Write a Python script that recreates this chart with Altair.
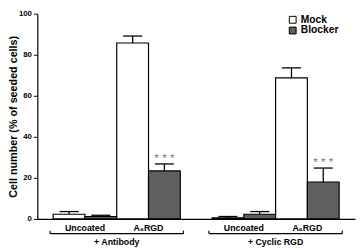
import altair as alt
import pandas as pd

groups = ["+ Antibody", "+ Cyclic RGD"]
coatings = ["Uncoated", "A\u2086RGD"]
treatments = ["Mock", "Blocker"]
means = [2.3, 1.2, 85.7, 23.4, 0.5, 2.3, 68.7, 18.0]
errors = [1.3, 0.6, 3.4, 3.4, 0.7, 1.3, 4.9, 6.8]
significant = [False, False, False, True, False, False, False, True]

FONT = "Liberation Sans"

rows = []
i = 0
for gi, g in enumerate(groups):
    for ci, c in enumerate(coatings):
        for ti, t in enumerate(treatments):
            pos = gi * 5 + ci * 2 + ti + 1
            rows.append(dict(group=g, coat=c, treat=t, pos=pos,
                             lo=pos - 0.5, hi=pos + 0.5,
                             cap_lo=pos - 0.3, cap_hi=pos + 0.3,
                             value=means[i], upper=means[i] + errors[i],
                             star="* * *" if significant[i] else ""))
            i += 1
df = pd.DataFrame(rows)

coat_df = df.groupby(["group", "coat"], as_index=False)["pos"].mean()
grp_df = df.groupby("group", as_index=False).agg(pos=("pos", "mean"),
                                                 pmin=("pos", "min"),
                                                 pmax=("pos", "max"))
grp_df["b_lo"] = grp_df["pmin"] - 0.6
grp_df["b_hi"] = grp_df["pmax"] + 0.6

xs = alt.Scale(domain=[0, 10], nice=False, zero=False)
ys = alt.Scale(domain=[0, 100], nice=False)

base = alt.Chart(df)

bars = base.mark_rect(stroke="black", strokeWidth=1.2).encode(
    x=alt.X("lo:Q", scale=xs,
            axis=alt.Axis(labels=False, ticks=False, title=None, grid=False,
                          domainColor="black", domainWidth=1.2)),
    x2="hi:Q",
    y=alt.Y("value:Q", scale=ys,
            axis=alt.Axis(values=[0, 20, 40, 60, 80, 100], grid=False,
                          title="Cell number (% of seeded cells)",
                          titleFont=FONT, titleFontSize=11, titleFontWeight="bold",
                          titleColor="black", titleAngle=270, titleAlign="center",
                          titleBaseline="middle", titleX=-24, titleY=105,
                          labelFont=FONT, labelFontSize=8, labelFontWeight="bold",
                          labelColor="black", labelPadding=2,
                          tickSize=4, tickColor="black", domainColor="black",
                          domainWidth=1.2)),
    y2=alt.datum(0),
    fill=alt.Fill("treat:N",
                  scale=alt.Scale(domain=treatments, range=["white", "#5f5f5f"]),
                  legend=alt.Legend(title=None, orient="none", legendX=256, legendY=1,
                                    symbolType="square", symbolSize=49,
                                    symbolStrokeColor="black", symbolStrokeWidth=1,
                                    labelFont=FONT, labelFontSize=10.5,
                                    labelFontWeight="bold", labelColor="black",
                                    labelOffset=3, rowPadding=-1, padding=0)),
)

err = base.mark_rule(color="black", strokeWidth=1.3).encode(
    x=alt.X("pos:Q", scale=xs), y=alt.Y("value:Q", scale=ys), y2="upper:Q")
caps = base.mark_rule(color="black", strokeWidth=1.3).encode(
    x=alt.X("cap_lo:Q", scale=xs), x2="cap_hi:Q", y=alt.Y("upper:Q", scale=ys))

stars = base.transform_filter("datum.star != ''").mark_text(
    font=FONT, fontSize=12, color="#7a7a7a", baseline="alphabetic", dy=-2
).encode(x=alt.X("pos:Q", scale=xs), y=alt.Y("upper:Q", scale=ys), text="star:N")

coat_labels = alt.Chart(coat_df).mark_text(
    font=FONT, fontSize=9, fontWeight="bold", color="black", baseline="middle"
).encode(x=alt.X("pos:Q", scale=xs), y=alt.value(219), text="coat:N")

brackets = alt.Chart(grp_df).mark_rule(color="black", strokeWidth=1.2).encode(
    x=alt.X("b_lo:Q", scale=xs), x2="b_hi:Q", y=alt.value(225))
b_left = alt.Chart(grp_df).mark_rule(color="black", strokeWidth=1.2).encode(
    x=alt.X("b_lo:Q", scale=xs), y=alt.value(222), y2=alt.value(225))
b_right = alt.Chart(grp_df).mark_rule(color="black", strokeWidth=1.2).encode(
    x=alt.X("b_hi:Q", scale=xs), y=alt.value(222), y2=alt.value(225))

grp_labels = alt.Chart(grp_df).mark_text(
    font=FONT, fontSize=9, fontWeight="bold", color="black", baseline="middle"
).encode(x=alt.X("pos:Q", scale=xs), y=alt.value(234), text="group:N")

chart = alt.layer(bars, err, caps, stars, coat_labels, brackets, b_left, b_right,
                  grp_labels).properties(
    width=325, height=210,
    autosize=alt.AutoSizeParams(type="none"),
    padding={"left": 30, "top": 3, "right": 1, "bottom": 31},
).configure_view(stroke=None)

chart.save("out.html", embed_options={"renderer": "svg", "actions": False})
